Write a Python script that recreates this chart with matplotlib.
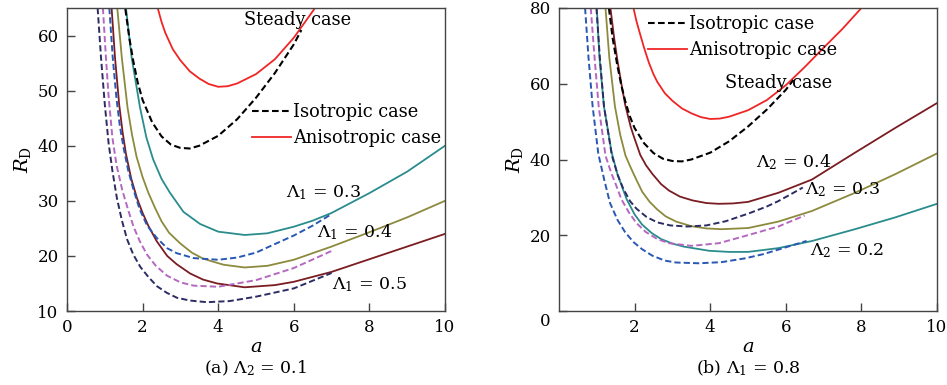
import matplotlib
matplotlib.use("Agg")
import matplotlib.pyplot as plt
from matplotlib.lines import Line2D
from matplotlib.transforms import ScaledTranslation

plt.rcParams['font.family'] = ['DejaVu Serif']
plt.rcParams['mathtext.fontset'] = 'dejavuserif'

# ---------------- data ----------------
# steady case (shared by both panels)
steady_iso_a = [1.32, 1.42, 1.54, 1.65, 1.75, 1.87, 2.0, 2.25, 2.5, 2.75, 3.0, 3.25, 3.5, 4.0, 4.5, 5.0, 5.5, 6.0, 6.2]
steady_iso_R = [80, 72.0, 65, 59.5, 55.5, 51.5, 48.3, 44.3, 41.7, 40.2, 39.6, 39.5, 40.0, 41.8, 44.8, 48.7, 53.2, 58.4, 61.0]
steady_ani_a = [1.97, 2.05, 2.14, 2.25, 2.38, 2.5, 2.6, 2.8, 3.0, 3.25, 3.5, 3.75, 4.0, 4.25, 4.5, 5.0, 5.5, 6.0, 6.5, 7.0, 7.5, 8.0]
steady_ani_R = [80, 76.5, 73.3, 69.5, 65.5, 62.5, 60.5, 57.5, 55.5, 53.5, 52.2, 51.2, 50.7, 50.8, 51.3, 53.0, 55.7, 59.6, 64.4, 69.5, 74.5, 80]

# panel (a): Lambda2 = 0.1, curves for Lambda1 = 0.3, 0.4, 0.5
a_lam1_labels = ['0.3', '0.4', '0.5']
a_iso_a = [
    [1.12, 1.21, 1.31, 1.4, 1.5, 1.62, 1.76, 1.92, 2.12, 2.37, 2.65, 2.9, 3.35, 4.0, 4.5, 5.0, 6.0, 6.5, 7.0],
    [0.95, 1.03, 1.1, 1.2, 1.31, 1.46, 1.62, 1.76, 1.93, 2.12, 2.35, 2.65, 3.0, 3.35, 4.0, 5.0, 6.0, 7.0],
    [0.81, 0.9, 1.0, 1.1, 1.2, 1.32, 1.45, 1.59, 1.75, 1.94, 2.15, 2.38, 2.64, 2.91, 3.25, 3.7, 4.3, 5.0, 6.0, 7.0],
]
a_iso_R = [
    [65, 56, 48.5, 43.5, 39.5, 35.5, 32.0, 28.5, 25.5, 23.3, 21.4, 20.5, 19.6, 19.3, 19.7, 20.6, 23.7, 25.5, 27.6],
    [65, 56, 49, 41.5, 36.5, 32.0, 28.3, 25.3, 22.6, 20.2, 18.2, 16.4, 15.2, 14.6, 14.4, 15.6, 17.8, 20.9],
    [65, 56, 47.5, 40.5, 35.5, 30.5, 26.5, 23.0, 20.3, 18.0, 16.2, 14.5, 13.3, 12.4, 11.9, 11.6, 11.8, 12.6, 14.1, 16.9],
]
a_ani_a = [
    [1.56, 1.71, 1.93, 2.1, 2.28, 2.5, 2.72, 3.08, 3.52, 4.0, 4.7, 5.3, 6.0, 6.5, 7.0, 8.0, 9.0, 10.0],
    [1.33, 1.45, 1.6, 1.72, 1.84, 2.0, 2.15, 2.33, 2.5, 2.7, 2.99, 3.3, 3.6, 4.14, 4.7, 5.3, 6.0, 7.0, 8.0, 9.0, 10.0],
    [1.18, 1.27, 1.38, 1.47, 1.56, 1.7, 1.85, 2.0, 2.15, 2.37, 2.65, 2.9, 3.26, 3.6, 3.97, 4.7, 5.5, 6.0, 7.0, 8.0, 9.0, 10.0],
]
a_ani_R = [
    [65, 56, 47, 41.5, 37.5, 34.0, 31.5, 28.0, 25.8, 24.4, 23.8, 24.1, 25.3, 26.4, 27.8, 31.4, 35.3, 40.0],
    [65, 56, 47.0, 42.0, 38.0, 34.3, 31.5, 28.7, 26.3, 24.2, 22.3, 20.6, 19.5, 18.4, 17.9, 18.2, 19.3, 21.7, 24.3, 27.0, 30.0],
    [65, 56, 47.5, 42.5, 38.5, 34.0, 30.5, 27.8, 25.5, 22.7, 20.0, 18.5, 16.8, 15.7, 15.0, 14.3, 14.7, 15.3, 17.1, 19.4, 21.7, 24.0],
]

# panel (b): Lambda1 = 0.8, curves for Lambda2 = 0.2, 0.3, 0.4
b_lam2_labels = ['0.2', '0.3', '0.4']
b_iso_a = [
    [0.69, 0.78, 0.89, 1.04, 1.2, 1.35, 1.55, 1.75, 1.97, 2.2, 2.47, 2.8, 3.1, 3.7, 4.3, 4.92, 5.4, 5.8, 6.55],
    [0.84, 0.94, 1.05, 1.23, 1.38, 1.5, 1.65, 1.85, 2.05, 2.29, 2.6, 2.91, 3.5, 4.23, 4.92, 5.8, 6.5],
    [0.99, 1.08, 1.19, 1.4, 1.55, 1.7, 1.88, 2.05, 2.32, 2.6, 2.94, 3.4, 3.9, 4.41, 5.03, 5.5, 5.8, 6.2, 6.45],
]
b_iso_R = [
    [80, 67, 54, 41.5, 34.5, 28.5, 24.0, 20.8, 18.2, 16.3, 14.6, 13.3, 12.8, 12.6, 12.9, 13.9, 15.0, 16.2, 18.5],
    [80, 67, 54, 41, 36.5, 33.5, 29.5, 26.0, 23.2, 20.9, 19.0, 17.9, 17.2, 17.9, 19.8, 22.3, 25.2],
    [80, 67, 54, 41, 36, 32.3, 29.0, 27.0, 24.8, 23.4, 22.6, 22.3, 22.6, 23.7, 25.8, 27.6, 29.0, 31.2, 32.6],
]
b_ani_a = [
    [1.0, 1.07, 1.19, 1.39, 1.55, 1.79, 2.0, 2.2, 2.45, 2.7, 3.0, 3.3, 3.97, 4.5, 5.0, 5.8, 6.7, 7.83, 8.89, 10.0],
    [1.23, 1.33, 1.48, 1.62, 1.76, 1.9, 2.03, 2.2, 2.4, 2.6, 2.82, 3.1, 3.5, 3.9, 4.3, 5.0, 5.8, 6.69, 7.83, 8.89, 10.0],
    [1.36, 1.46, 1.54, 1.65, 1.75, 1.9, 2.0, 2.15, 2.3, 2.47, 2.7, 2.91, 3.2, 3.53, 3.9, 4.23, 4.6, 5.0, 5.8, 6.69, 7.83, 8.89, 10.0],
]
b_ani_R = [
    [80, 67, 54, 42, 36, 29.5, 25.5, 22.8, 20.6, 19.0, 17.8, 17.0, 15.9, 15.6, 15.6, 16.6, 18.5, 21.6, 24.7, 28.3],
    [80, 67, 54, 46.5, 41, 37.8, 35.0, 31.5, 28.8, 26.8, 25.0, 23.6, 22.4, 21.8, 21.6, 21.9, 23.6, 26.4, 31.2, 36.1, 41.6],
    [80, 72, 66.5, 60, 54.5, 48.5, 45.5, 41.2, 38.5, 36.2, 33.5, 31.8, 30.2, 29.2, 28.5, 28.3, 28.4, 28.8, 31.2, 34.7, 41.8, 48.3, 54.9],
]

# ---------------- styles ----------------
RED = '#f02525'
c_teal, c_olive, c_dred = '#2a8c8c', '#8c8a3c', '#7a1c22'
c_blue, c_mag, c_navy = '#2858b4', '#b468c0', '#2c2c64'

iso_cols = [c_blue, c_mag, c_navy]
ani_cols = [c_teal, c_olive, c_dred]

fig = plt.figure(figsize=(9.47, 3.85), dpi=100)
axA = fig.add_axes([67/947, 74/385, 378/947, 303/385])
axB = fig.add_axes([559/947, 74/385, 378/947, 303/385])

DASH = (0, (3.2, 1.6))
LW = 1.3

def draw(ax, iso_a, iso_R, ani_a, ani_R):
    ax.plot(steady_ani_a, steady_ani_R, color=RED, lw=LW)
    for xs, ys, c in zip(ani_a, ani_R, ani_cols):
        ax.plot(xs, ys, color=c, lw=LW, solid_joinstyle='round')
    ax.plot(steady_iso_a, steady_iso_R, color='black', lw=LW + 0.2, linestyle=DASH)
    for xs, ys, c in zip(iso_a, iso_R, iso_cols):
        ax.plot(xs, ys, color=c, lw=LW + 0.1, linestyle=DASH)

draw(axA, a_iso_a, a_iso_R, a_ani_a, a_ani_R)
draw(axB, b_iso_a, b_iso_R, b_ani_a, b_ani_R)

axA.set_xlim(0, 10); axA.set_ylim(10, 65)
axA.set_xticks([0, 2, 4, 6, 8, 10]); axA.set_yticks([10, 20, 30, 40, 50, 60])
axB.set_xlim(0, 10); axB.set_ylim(0, 80)
axB.set_xticks([2, 4, 6, 8, 10]); axB.set_yticks([0, 20, 40, 60, 80])

for ax in (axA, axB):
    for s in ax.spines.values():
        s.set_color('#444444'); s.set_linewidth(1.0)
    ax.tick_params(direction='in', length=6, width=1.0, color='#444444',
                   labelsize=12, pad=6)
    ax.set_xlabel('$a$', fontsize=14, labelpad=1)
    ax.set_ylabel(r'$R_\mathrm{D}$', fontsize=14, labelpad=3)

# the "0" label of panel (b) sits slightly below the axis corner
fig.canvas.draw()
lbl0 = axB.yaxis.get_major_ticks()[0].label1
lbl0.set_transform(lbl0.get_transform() + ScaledTranslation(0, -0.08, fig.dpi_scale_trans))

fig.text(256/947, 1 - 368/385, r'(a) $\Lambda_2$ = 0.1', ha='center', va='center', fontsize=12.5)
fig.text(748/947, 1 - 368/385, r'(b) $\Lambda_1$ = 0.8', ha='center', va='center', fontsize=12.5)

# annotations
axA.text(6.1, 62.9, 'Steady case', ha='center', va='center', fontsize=12.8)
axB.text(5.8, 60.3, 'Steady case', ha='center', va='center', fontsize=12.8)
for lab, (x, y) in zip(a_lam1_labels, [(6.78, 31.5), (7.6, 24.4), (8.0, 14.7)]):
    axA.text(x, y, r'$\Lambda_1$ = ' + lab, ha='center', va='center', fontsize=12.5)
for lab, (x, y) in zip(b_lam2_labels, [(7.63, 15.9), (7.5, 32.1), (6.2, 39.2)]):
    axB.text(x, y, r'$\Lambda_2$ = ' + lab, ha='center', va='center', fontsize=12.5)

handles = [Line2D([], [], color='black', lw=LW + 0.2, linestyle=DASH),
           Line2D([], [], color=RED, lw=LW)]
labels = ['Isotropic case', 'Anisotropic case']
for ax, anchor in ((axA, (0.49, 0.685)), (axB, (0.235, 0.977))):
    ax.legend(handles, labels, loc='upper left', bbox_to_anchor=anchor, frameon=False,
              fontsize=12.8, handlelength=2.2, handletextpad=0.12, borderpad=0,
              borderaxespad=0, labelspacing=0.45)

fig.savefig('out.png', dpi=100)
